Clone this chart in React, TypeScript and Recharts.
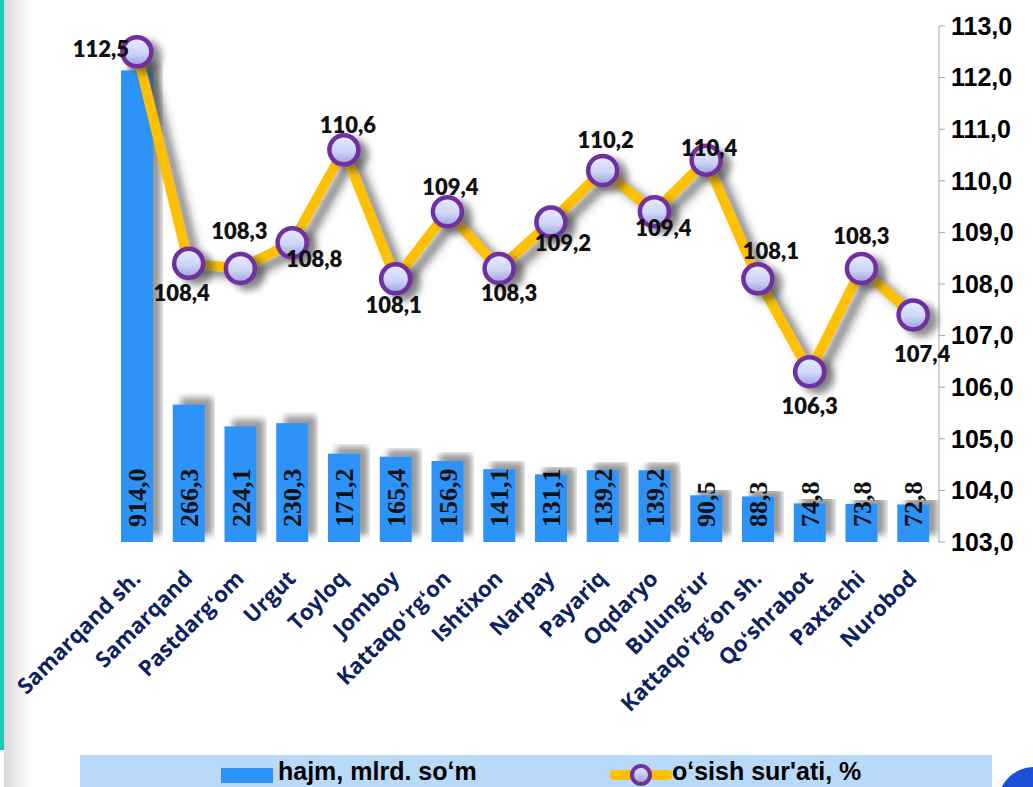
import React from 'react';
import { ComposedChart, Bar, Line, XAxis, YAxis, LabelList } from 'recharts';

const districts = [
  'Samarqand sh.', 'Samarqand', 'Pastdargʻom', 'Urgut', 'Toyloq', 'Jomboy', 'Kattaqoʻrgʻon', 'Ishtixon',
  'Narpay', 'Payariq', 'Oqdaryo', 'Bulungʻur', 'Kattaqoʻrgʻon sh.', 'Qoʻshrabot', 'Paxtachi', 'Nurobod',
];
const volume = [914.0, 266.3, 224.1, 230.3, 171.2, 165.4, 156.9, 141.1, 131.1, 139.2, 139.2, 90.5, 88.3, 74.8, 73.8, 72.8];
const growth = [112.5, 108.4, 108.3, 108.8, 110.6, 108.1, 109.4, 108.3, 109.2, 110.2, 109.4, 110.4, 108.1, 106.3, 108.3, 107.4];
const growthTicks = [103, 104, 105, 106, 107, 108, 109, 110, 111, 112, 113];

// where each growth label sits relative to its marker (dx, dy)
const growthLabelShift = [
  [-36, -3], [-7, 29], [-1, -38], [22, 16], [4, -25], [-2, 26], [3, -25], [10, 24],
  [12, 20], [3, -31], [9, 16], [3, -13], [13, -28], [0, 34], [0, -33], [9, 39],
];

const rows = districts.map((name, i) => ({ name, volume: volume[i], growth: growth[i] }));

const fmt = (v: number) => v.toFixed(1).replace('.', ',');

function DistrictTick({ x, y, payload }: any) {
  const ax = x + 5;
  const ay = y + 30;
  return (
    <text x={ax} y={ay} transform={`rotate(-45 ${ax} ${ay})`} textAnchor="end"
      fontFamily="'Open Sans', sans-serif" fontWeight={700} fontSize={22} fill="#0c2262">
      {payload.value}
    </text>
  );
}

function VolumeLabel({ x, y, width, height, value }: any) {
  const lx = x + width / 2 + 9;
  const ly = y + height - 15;
  return (
    <text x={lx} y={ly} transform={`rotate(-90 ${lx} ${ly})`} fontFamily="'Liberation Serif', serif"
      fontWeight={700} fontSize={26} fill="#111">
      {fmt(value)}
    </text>
  );
}

function GrowthLabel({ x, y, value, index }: any) {
  const [dx, dy] = growthLabelShift[index ?? 0] || [0, -30];
  return (
    <text x={x + dx} y={y + dy} textAnchor="middle" dominantBaseline="central"
      fontFamily="Lato, sans-serif" fontWeight={800} fontSize={22} fill="#111">
      {fmt(value)}
    </text>
  );
}

function GrowthDot({ cx, cy, index }: any) {
  return (
    <g key={`dot-${index}`}>
      <circle cx={cx + 8} cy={cy + 5} r={17} fill="#444" opacity={0.6} filter="url(#blurSoft)" />
      <circle cx={cx} cy={cy} r={14.5} fill="url(#dotFill)" stroke="#7030a0" strokeWidth={4.5} />
    </g>
  );
}

const legendText = {
  position: 'absolute' as const, top: 2, fontFamily: "'Liberation Sans', Arial, sans-serif",
  fontWeight: 700, fontSize: 25, color: '#000', whiteSpace: 'nowrap' as const,
};

export default function App() {
  return (
    <div style={{ position: 'absolute', left: 0, top: 0, width: 1033, height: 787, overflow: 'hidden', background: '#fff' }}>
      <div style={{ position: 'absolute', left: 0, top: 0, width: 4, height: 750, background: '#19c9b3' }} />
      <div style={{ position: 'absolute', left: 4, top: 0, width: 26, height: 787, background: 'linear-gradient(to right, #d8d8d8, #ffffff)' }} />
      <ComposedChart width={1033} height={787} data={rows} margin={{ top: 26, right: 0, bottom: 0, left: 111 }}>
        <defs>
          <linearGradient id="dotFill" x1="0" y1="0" x2="0" y2="1">
            <stop offset="0%" stopColor="#e8ecff" />
            <stop offset="55%" stopColor="#cdd5f8" />
            <stop offset="100%" stopColor="#9aa0da" />
          </linearGradient>
          <filter id="blurSoft" x="-50%" y="-50%" width="200%" height="200%">
            <feGaussianBlur stdDeviation="3.5" />
          </filter>
          <filter id="lineShadow" x="-10%" y="-10%" width="120%" height="130%">
            <feDropShadow dx="9" dy="6" stdDeviation="4" floodColor="#333" floodOpacity="0.6" />
          </filter>
          <filter id="barShadow" x="-30%" y="-10%" width="160%" height="120%">
            <feDropShadow dx="8" dy="-7" stdDeviation="3" floodColor="#555" floodOpacity="0.6" />
          </filter>
        </defs>
        <XAxis dataKey="name" interval={0} axisLine={false} tickLine={false} height={245} tick={<DistrictTick />} />
        <YAxis yAxisId="left" hide domain={[0, 1000]} />
        <YAxis yAxisId="right" orientation="right" width={94} domain={[103, 113]} ticks={growthTicks}
          tickFormatter={fmt} axisLine={{ stroke: '#a6a6a6' }} tickLine={{ stroke: '#a6a6a6' }} tickSize={6} tickMargin={6}
          tick={{ fill: '#000', fontSize: 25, fontWeight: 700, fontFamily: "'Liberation Sans', Arial, sans-serif", textAnchor: 'start' }} />
        <Bar yAxisId="left" dataKey="volume" barSize={32} fill="#2e93f8" isAnimationActive={false}
          shape={(p: any) => <rect x={p.x} y={p.y} width={p.width} height={p.height} fill="#2e93f8" filter="url(#barShadow)" />}>
          <LabelList dataKey="volume" content={<VolumeLabel />} />
        </Bar>
        <Line yAxisId="right" dataKey="growth" type="linear" stroke="#ffc000" strokeWidth={10} filter="url(#lineShadow)"
          dot={(p: any) => <GrowthDot key={`d${p.index}`} {...p} />} activeDot={false} isAnimationActive={false}>
          <LabelList dataKey="growth" content={<GrowthLabel />} />
        </Line>
      </ComposedChart>
      <div style={{ position: 'absolute', left: 80, top: 755, width: 912, height: 40, background: '#b8d9f8' }}>
        <div style={{ position: 'absolute', left: 141, top: 13, width: 52, height: 15, background: '#2e93f8' }} />
        <div style={{ ...legendText, left: 198 }}>hajm, mlrd. soʻm</div>
        <svg style={{ position: 'absolute', left: 530, top: 6 }} width={62} height={28}>
          <defs>
            <linearGradient id="legendDot" x1="0" y1="0" x2="0" y2="1">
              <stop offset="0%" stopColor="#e8ecff" />
              <stop offset="100%" stopColor="#9aa0da" />
            </linearGradient>
          </defs>
          <line x1={4} y1={14} x2={58} y2={14} stroke="#ffc000" strokeWidth={10} strokeLinecap="round" />
          <circle cx={31} cy={14} r={9} fill="url(#legendDot)" stroke="#7030a0" strokeWidth={4} />
        </svg>
        <div style={{ ...legendText, left: 592 }}>oʻsish sur'ati, %</div>
      </div>
      <div style={{ position: 'absolute', left: 998, top: 767, width: 72, height: 72, borderRadius: '50%', background: '#1d4fd8' }} />
    </div>
  );
}
